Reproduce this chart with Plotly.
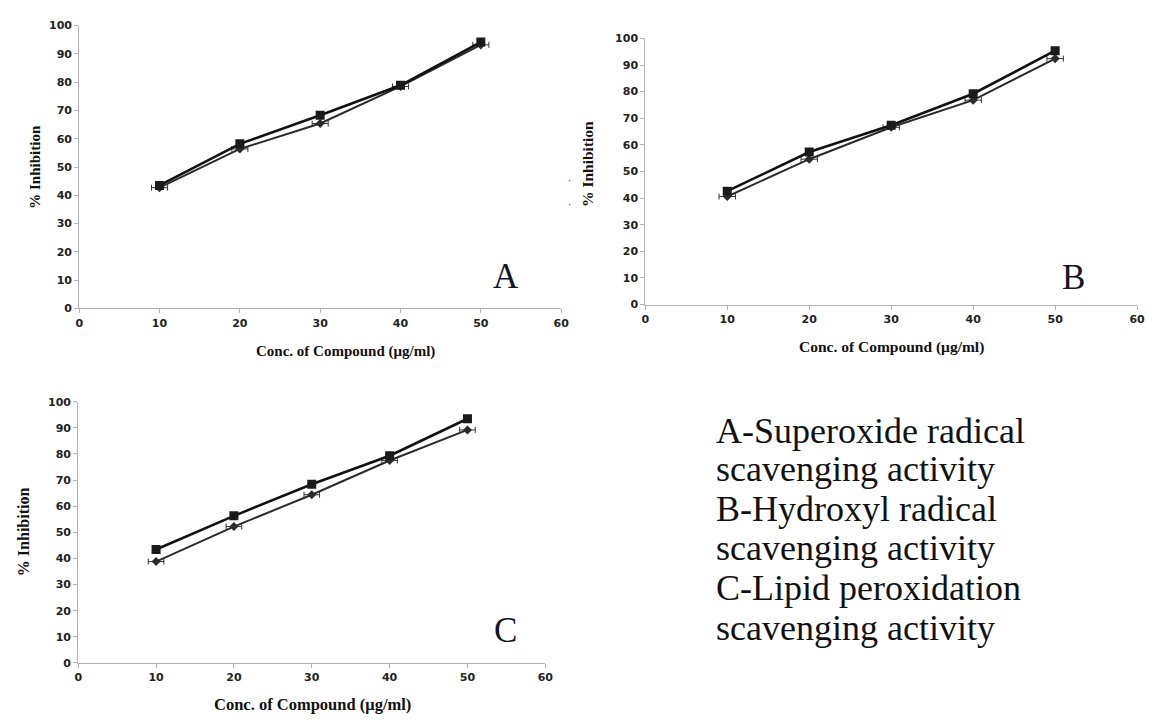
import plotly.graph_objects as go

conc = [10, 20, 30, 40, 50]

# Panel A - Superoxide radical scavenging
a_square = [43.5, 58.2, 68.3, 78.9, 94.2]
a_diamond = [42.7, 56.4, 65.4, 78.5, 93.2]
# Panel B - Hydroxyl radical scavenging
b_square = [42.6, 57.3, 67.4, 79.2, 95.4]
b_diamond = [40.6, 54.6, 66.6, 76.8, 92.4]
# Panel C - Lipid peroxidation scavenging
c_square = [43.4, 56.3, 68.4, 79.3, 93.5]
c_diamond = [38.8, 52.2, 64.4, 77.5, 89.2]

x_err = [1, 1, 1, 1, 1]

x_ticks = [0, 10, 20, 30, 40, 50, 60]
y_ticks = [0, 10, 20, 30, 40, 50, 60, 70, 80, 90, 100]

panels = [
    ("x", "y", a_square, a_diamond),
    ("x2", "y2", b_square, b_diamond),
    ("x3", "y3", c_square, c_diamond),
]

fig = go.Figure()
for xa, ya, sq, dm in panels:
    fig.add_trace(go.Scatter(
        x=conc, y=dm, xaxis=xa, yaxis=ya, mode="lines+markers",
        line=dict(color="#2b2b2b", width=2),
        marker=dict(symbol="diamond", size=7, color="#2b2b2b"),
        error_x=dict(type="data", array=x_err, color="#333333", thickness=1, width=3),
        showlegend=False,
    ))
    fig.add_trace(go.Scatter(
        x=conc, y=sq, xaxis=xa, yaxis=ya, mode="lines+markers",
        line=dict(color="#111111", width=2.6),
        marker=dict(symbol="square", size=9, color="#1a1a1a"),
        showlegend=False,
    ))

W, H = 1156, 720

def px_dom_x(a, b):
    return [a / W, b / W]

def px_dom_y(top, bottom):
    return [1 - bottom / H, 1 - top / H]

axis_common = dict(
    showgrid=False, zeroline=False, showline=True, linecolor="#b3b3b3", linewidth=1,
    ticks="outside", ticklen=4, tickcolor="#b3b3b3",
    tickfont=dict(family="DejaVu Sans", size=11, color="#222222", weight="bold"),
)

fig.update_layout(
    width=W, height=H, margin=dict(l=0, r=0, t=0, b=0),
    paper_bgcolor="white", plot_bgcolor="white",
    xaxis=dict(domain=px_dom_x(76, 563), range=[0, 60], tickvals=x_ticks, anchor="y", **axis_common),
    yaxis=dict(domain=px_dom_y(20, 308), range=[0, 100], tickvals=y_ticks, anchor="x", **axis_common),
    xaxis2=dict(domain=px_dom_x(648, 1145), range=[0, 60], tickvals=x_ticks, anchor="y2", **axis_common),
    yaxis2=dict(domain=px_dom_y(33, 304), range=[0, 100], tickvals=y_ticks, anchor="x2", **axis_common),
    xaxis3=dict(domain=px_dom_x(75, 547), range=[0, 60], tickvals=x_ticks, anchor="y3", **axis_common),
    yaxis3=dict(domain=px_dom_y(403, 669), range=[0, 100], tickvals=y_ticks, anchor="x3", **axis_common),
)

def ann(text, x, y, font, angle=0, xanchor="center", yanchor="middle"):
    fig.add_annotation(
        text=text, x=x / W, y=1 - y / H, xref="paper", yref="paper",
        showarrow=False, font=font, textangle=angle, xanchor=xanchor, yanchor=yanchor,
    )

def sb(size):
    return dict(family="Liberation Serif", size=size, color="#111111", weight="bold")

# axis titles
ann("Conc. of Compound (μg/ml)", 345, 352, sb(15))
ann("Conc. of Compound (μg/ml)", 897, 347, sb(15.5))
ann("Conc. of Compound (μg/ml)", 312, 711, sb(16.5))
ann("% Inhibition", 31, 164, sb(15), angle=-90)
ann("% Inhibition", 589, 161, sb(15.5), angle=-90)
ann("% Inhibition", 20, 535, sb(16), angle=-90)

# stray legend remnants
dot_font = dict(family="DejaVu Sans", size=10, color="#333333")
ann("·", 571, 178, dot_font)
ann("·", 571, 202, dot_font)

# panel letters
letter_font = dict(family="Liberation Serif", size=35, color="#14142a")
ann("A", 507, 275, letter_font)
ann("B", 1081, 277, letter_font)
ann("C", 507, 636, letter_font)

# description block
desc_lines = [
    "A-Superoxide radical",
    "scavenging activity",
    "B-Hydroxyl radical",
    "scavenging activity",
    "C-Lipid peroxidation",
    "scavenging activity",
]
desc_y = [433, 472, 512, 552, 593, 633]
desc_font = dict(family="Liberation Serif", size=36, color="#111111")
for line, yy in zip(desc_lines, desc_y):
    ann(line, 717, yy, desc_font, xanchor="left")

fig.write_html(
    "out.html",
    config={"displayModeBar": False},
    post_script="document.body.style.margin='0';document.body.style.overflow='hidden';",
)
